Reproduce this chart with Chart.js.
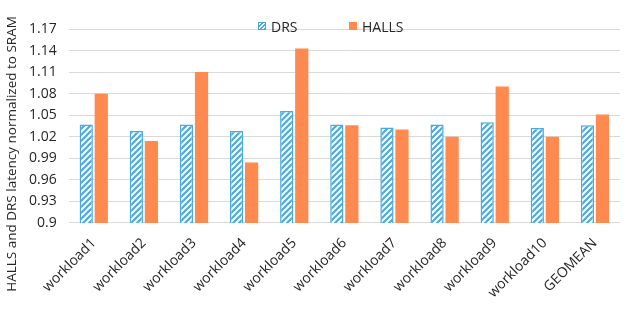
<!DOCTYPE html>
<html>
<head>
<meta charset="utf-8">
<script src="https://cdn.jsdelivr.net/npm/chart.js@4/dist/chart.umd.min.js"></script>
<style>
  html, body { margin: 0; padding: 0; background: #fff; }
  #wrap { position: relative; width: 628px; height: 309px; }
  #legend { position: absolute; top: 18px; left: 0; width: 628px; height: 16px;
            font: 14px "Open Sans", sans-serif; color: #262626; }
  #legend .item { position: absolute; top: 0; display: flex; align-items: center; height: 16px; }
  #legend .box { width: 8px; height: 8px; margin-right: 5px; box-sizing: border-box; }
</style>
</head>
<body>
<div id="wrap">
  <canvas id="myChart" width="628" height="309"></canvas>
  <div id="legend"></div>
</div>
<script>
const categories = ["workload1", "workload2", "workload3", "workload4", "workload5",
  "workload6", "workload7", "workload8", "workload9", "workload10", "GEOMEAN"];
const drsValues = [1.037, 1.028, 1.037, 1.028, 1.056, 1.037, 1.033, 1.037, 1.040, 1.032, 1.036];
const hallsValues = [1.080, 1.014, 1.110, 0.984, 1.143, 1.036, 1.030, 1.020, 1.090, 1.020, 1.051];
const yTicks = [0.9, 0.93, 0.96, 0.99, 1.02, 1.05, 1.08, 1.11, 1.14, 1.17];
const yTitle = "HALLS and DRS latency normalized to SRAM";

const blue = "#4aa9de";
const orange = "#ff8a4f";
const textColor = "#262626";
const font = "'Open Sans', sans-serif";

function makeHatch() {
  const c = document.createElement("canvas");
  c.width = 6;
  c.height = 6;
  const g = c.getContext("2d");
  g.fillStyle = "#fff";
  g.fillRect(0, 0, 6, 6);
  g.strokeStyle = blue;
  g.lineWidth = 2.2;
  g.beginPath();
  g.moveTo(0, 6); g.lineTo(6, 0);
  g.moveTo(-1, 1); g.lineTo(1, -1);
  g.moveTo(5, 7); g.lineTo(7, 5);
  g.stroke();
  return g.createPattern(c, "repeat");
}

// y axis title, centred on the whole canvas height like the original
const yTitlePlugin = {
  id: "yTitle",
  afterDraw(chart) {
    const c = chart.ctx;
    c.save();
    c.translate(12, 154);
    c.rotate(-Math.PI / 2);
    c.font = "13.5px " + font;
    c.fillStyle = textColor;
    c.textAlign = "center";
    c.textBaseline = "middle";
    c.fillText(yTitle, 0, 0);
    c.restore();
  }
};

// html legend built from the datasets
const htmlLegend = {
  id: "htmlLegend",
  afterUpdate(chart) {
    const el = document.getElementById("legend");
    el.innerHTML = "";
    const lefts = [258, 349];
    chart.data.datasets.forEach((ds, i) => {
      const item = document.createElement("div");
      item.className = "item";
      item.style.left = lefts[i] + "px";
      const box = document.createElement("span");
      box.className = "box";
      if (i === 0) {
        box.style.border = "1px solid " + blue;
        box.style.background = "repeating-linear-gradient(135deg, #fff 0 1.5px, " + blue + " 1.5px 3px)";
      } else {
        box.style.background = orange;
      }
      const txt = document.createElement("span");
      txt.textContent = ds.label;
      item.appendChild(box);
      item.appendChild(txt);
      el.appendChild(item);
    });
  }
};

const ctx = document.getElementById("myChart");
const myChart = new Chart(ctx, {
  type: "bar",
  data: {
    labels: categories,
    datasets: [
      {
        label: "DRS",
        data: drsValues,
        backgroundColor: makeHatch(),
        borderColor: blue,
        borderWidth: 1.5,
        barPercentage: 0.88,
        categoryPercentage: 0.6,
      },
      {
        label: "HALLS",
        data: hallsValues,
        backgroundColor: orange,
        borderWidth: 0,
        barPercentage: 0.88,
        categoryPercentage: 0.6,
      },
    ],
  },
  options: {
    responsive: false,
    animation: false,
    layout: { padding: { left: 17, right: 8, top: 29, bottom: 4 } },
    plugins: {
      legend: { display: false },
      tooltip: { enabled: false },
    },
    scales: {
      x: {
        grid: { display: false },
        border: { display: false },
        ticks: {
          color: textColor,
          font: { family: font, size: 14 },
          maxRotation: 45,
          minRotation: 45,
          padding: 4,
        },
      },
      y: {
        min: 0.9,
        max: 1.17,
        afterBuildTicks: (axis) => {
          axis.ticks = yTicks.map((v) => ({ value: v }));
        },
        grid: { color: "#d9d9d9", lineWidth: 1, drawTicks: false },
        border: { display: false },
        ticks: {
          color: textColor,
          font: { family: font, size: 14 },
          padding: 12,
          callback: (v) => String(v),
        },
      },
    },
  },
  plugins: [yTitlePlugin, htmlLegend],
});
</script>
</body>
</html>
